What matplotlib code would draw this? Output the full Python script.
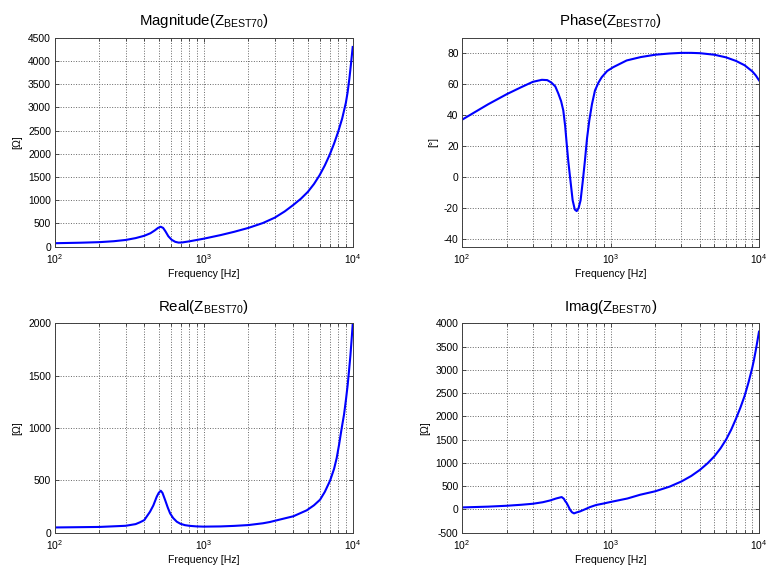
import matplotlib
matplotlib.use("Agg")
import matplotlib.pyplot as plt
from matplotlib.ticker import LogLocator, NullFormatter, MultipleLocator

plt.rcParams["font.family"] = ["Liberation Sans", "DejaVu Sans"]
plt.rcParams["mathtext.fontset"] = "custom"
plt.rcParams["mathtext.rm"] = "Liberation Sans"
plt.rcParams["mathtext.it"] = "Liberation Sans:italic"
plt.rcParams["mathtext.bf"] = "Liberation Sans:bold"
plt.rcParams["axes.unicode_minus"] = False

# |Z| of the BEST70 impedance, Ohm
mag_freq = [100, 150, 200, 250, 300, 350, 400, 440, 470, 495, 515, 535, 555,
            580, 610, 645, 680, 720, 800, 900, 1000, 1300, 1600, 2000, 2500,
            3000, 3500, 4000, 4500, 5000, 5500, 6000, 6500, 7000, 7500, 8000,
            8500, 9000, 9250, 9500, 9750, 10000]
mag_vals = [75, 86, 98, 118, 145, 185, 235, 290, 350, 405, 430, 405, 330,
            225, 150, 105, 88, 92, 115, 145, 172, 250, 320, 405, 510,
            625, 760, 900, 1035, 1180, 1350, 1540, 1750, 1975, 2220, 2480,
            2760, 3100, 3330, 3620, 3950, 4300]

# phase of Z, degrees
ph_freq = [100, 120, 150, 200, 250, 300, 345, 375, 400, 425, 445, 465, 481,
           495, 507, 520, 534, 556, 575, 592, 610, 629, 650, 673, 695, 720,
           750, 786, 830, 873, 950, 1045, 1285, 1600, 2000, 2500, 3000, 3500,
           4000, 5000, 6000, 7000, 8000, 9000, 9500, 10000]
ph_vals = [37, 41.5, 47, 53.5, 58, 61.5, 62.8, 62.6, 61, 58.5, 54, 49, 43,
           33, 21.5, 10, 0, -15, -21, -22, -20, -15, -3, 10.8, 25, 36.6,
           47, 55.9, 61, 64.5, 68.5, 71, 75.3, 77.5, 79, 79.8, 80.2, 80.2,
           80, 79, 77.3, 75, 72.2, 68.3, 65.7, 62.5]

# Re(Z), Ohm
re_freq = [100, 200, 300, 350, 375, 400, 437, 460, 485, 500, 516, 530, 552,
           575, 596, 625, 661, 700, 750, 812, 900, 1000, 1300, 1600, 2000,
           2500, 2780, 3300, 4000, 4920, 5500, 6040, 6500, 7050, 7500, 7810,
           8100, 8440, 8750, 9010, 9250, 9440, 9650, 9840, 10000]
re_vals = [50, 55, 66, 82, 100, 120, 200, 260, 344, 380, 401, 380, 312,
           240, 185, 140, 105, 85, 72, 65, 60, 58, 60, 65, 73,
           90, 102, 128, 157, 214, 262, 315, 390, 497, 610, 713,
           840, 1000, 1130, 1270, 1410, 1540, 1690, 1850, 1990]

# Im(Z), Ohm
im_freq = [100, 150, 200, 250, 300, 350, 392, 430, 469, 485, 495, 507, 520,
           534, 550, 568, 590, 623, 670, 728, 800, 900, 1000, 1300, 1581,
           2000, 2500, 3000, 3500, 4000, 4500, 5000, 5500, 6000, 6500, 7000,
           7500, 8000, 8500, 9000, 9250, 9500, 9750, 10000]
im_vals = [43, 60, 79, 100, 122, 155, 193, 235, 266, 230, 180, 137, 70,
           -6, -60, -85, -65, -43, 0, 51, 95, 128, 160, 235, 315,
           390, 490, 600, 720, 850, 990, 1140, 1310, 1500, 1715, 1950,
           2190, 2440, 2730, 3040, 3215, 3410, 3615, 3820]

panels = [
    ("Magnitude", mag_freq, mag_vals, "[\u03a9]", (0, 4500), 500),
    ("Phase", ph_freq, ph_vals, "[\u00b0]", (-45, 90), 20),
    ("Real", re_freq, re_vals, "[\u03a9]", (0, 2000), 500),
    ("Imag", im_freq, im_vals, "[\u03a9]", (-500, 4000), 500),
]

W, H = 767, 571
fig = plt.figure(figsize=(W / 100, H / 100), dpi=100)
fig.patch.set_facecolor("white")

boxes = [
    (54.5, 37.7, 352.7, 246.7),
    (462.0, 37.7, 759.0, 246.7),
    (54.5, 323.3, 352.7, 532.7),
    (462.0, 323.3, 759.0, 532.7),
]

for (name, fr, vals, ylab, ylim, ystep), (x0, y0, x1, y1) in zip(panels, boxes):
    ax = fig.add_axes([x0 / W, 1 - y1 / H, (x1 - x0) / W, (y1 - y0) / H])
    ax.plot(fr, vals, color=(0, 0, 1), lw=1.5, solid_joinstyle="round")
    ax.set_xscale("log")
    ax.set_xlim(100, 10000)
    ax.set_ylim(*ylim)
    ax.xaxis.set_major_locator(LogLocator(base=10, numticks=10))
    ax.xaxis.set_minor_locator(LogLocator(base=10, subs=range(2, 10), numticks=20))
    ax.xaxis.set_minor_formatter(NullFormatter())
    ax.yaxis.set_major_locator(MultipleLocator(ystep))
    ax.grid(True, which="major", axis="both", linestyle=":", color="0.4", lw=0.7)
    ax.grid(True, which="minor", axis="x", linestyle=":", color="0.4", lw=0.7)
    ax.tick_params(which="both", direction="in", top=True, right=True,
                   labelsize=7.4, color="0.2", width=0.6)
    ax.tick_params(which="major", length=3)
    ax.tick_params(which="minor", length=2.2)
    ax.tick_params(axis="x", pad=4)
    ax.tick_params(axis="y", pad=2.5)
    for s in ax.spines.values():
        s.set_color("0.25")
        s.set_linewidth(0.7)
    ax.set_xlabel("Frequency [Hz]", fontsize=7.6, labelpad=2)
    ax.set_ylabel(ylab, fontsize=7.6, labelpad=4)
    ax.set_title(name + r"(Z$_{\mathrm{BEST70}}$)", fontsize=10.8, pad=9)

fig.savefig("out.png", dpi=100, facecolor="white")
